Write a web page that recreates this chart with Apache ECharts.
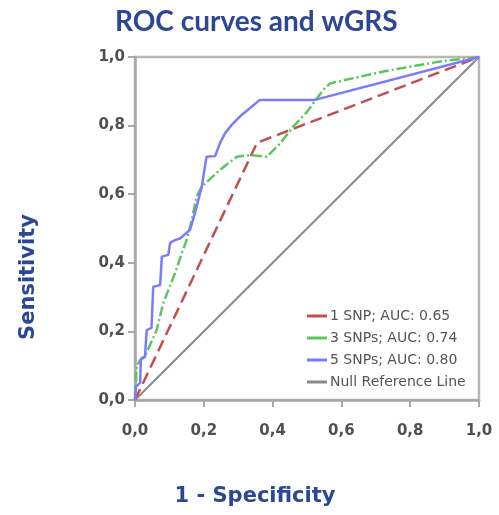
<!DOCTYPE html>
<html><head><meta charset="utf-8">
<script src="https://cdn.jsdelivr.net/npm/echarts@6/dist/echarts.min.js"></script>
<style>html,body{margin:0;padding:0;background:#fff}#c{width:499px;height:515px}</style>
</head><body><div id="c"></div>
<script>
// Data
const fpr1 = [0, 0.355, 1];
const tpr1 = [0, 0.750, 1];
const fpr3 = [0,0.005,0.019,0.03,0.063,0.082,0.116,0.136,0.150,0.165,0.179,0.194,0.247,0.296,0.334,0.383,0.422,0.46,0.50,0.547,0.567,0.722,0.887,1];
const tpr3 = [0,0.10,0.122,0.13,0.204,0.282,0.369,0.428,0.466,0.525,0.593,0.622,0.671,0.709,0.714,0.709,0.748,0.797,0.84,0.904,0.923,0.958,0.987,1];
const fpr5 = [0,0.003,0.015,0.017,0.029,0.034,0.048,0.053,0.073,0.078,0.097,0.102,0.116,0.131,0.160,0.174,0.194,0.208,0.233,0.247,0.262,0.281,0.310,0.363,0.523,1];
const tpr5 = [0,0.039,0.05,0.117,0.126,0.204,0.21,0.33,0.335,0.418,0.423,0.458,0.466,0.471,0.496,0.544,0.622,0.709,0.711,0.749,0.778,0.802,0.831,0.875,0.875,1];
const fprNull = [0, 1];
const tprNull = [0, 1];
const seriesNames = ['1 SNP; AUC: 0.65', '3 SNPs; AUC: 0.74', '5 SNPs; AUC: 0.80', 'Null Reference Line'];
const titleText = 'ROC curves and wGRS';
const xName = '1 - Specificity';
const yName = 'Sensitivity';

const zip = (a, b) => a.map((v, i) => [v, b[i]]);
const fmt = v => v.toFixed(1).replace('.', ',');
const navy = '#2c4793';

const chart = echarts.init(document.getElementById('c'), null, {renderer: 'canvas'});
const axisCommon = {
  type: 'value', min: 0, max: 1, interval: 0.2,
  axisLine: {show: true, lineStyle: {color: '#a8a8a8', width: 2.5}},
  axisTick: {show: true, length: 7, lineStyle: {color: '#a8a8a8', width: 2}},
  splitLine: {show: false},
  axisLabel: {formatter: fmt, color: '#505050', fontFamily: 'DejaVu Sans', fontWeight: 'bold', fontSize: 15}
};
chart.setOption({
  animation: false,
  backgroundColor: '#fff',
  title: {text: titleText, left: 110, top: 3,
    textStyle: {fontFamily: 'Lato', fontWeight: 'bold', fontSize: 28, color: navy}},
  grid: {left: 135, right: 20, top: 57, bottom: 115, show: true, borderColor: '#b8b8b8', borderWidth: 2.5},
  xAxis: Object.assign({}, axisCommon, {
    axisLabel: Object.assign({}, axisCommon.axisLabel, {margin: 24})
  }),
  yAxis: Object.assign({}, axisCommon, {
    axisLabel: Object.assign({}, axisCommon.axisLabel, {margin: 10, padding: [6, 0, 0, 0]})
  }),
  legend: {
    orient: 'vertical', left: 302, top: 304, itemGap: 8, itemWidth: 20, itemHeight: 3, icon: 'rect',
    textStyle: {fontFamily: 'DejaVu Sans', fontSize: 14, color: '#555', padding: [0, 0, 0, -2]},
    data: seriesNames
  },
  graphic: [
    {type: 'text', x: 255, y: 497, style: {text: xName, fontFamily: 'DejaVu Sans', fontWeight: 'bold', fontSize: 21, fill: navy, align: 'center', verticalAlign: 'middle'}},
    {type: 'text', x: 29, y: 277, rotation: Math.PI / 2, style: {text: yName, fontFamily: 'DejaVu Sans', fontWeight: 'bold', fontSize: 21, fill: navy, align: 'center', verticalAlign: 'middle'}}
  ],
  series: [
    {name: seriesNames[3], type: 'line', data: zip(fprNull, tprNull), symbol: 'none', z: 1,
      lineStyle: {color: '#8a8a8a', width: 2}, itemStyle: {color: '#8a8a8a'}},
    {name: seriesNames[0], type: 'line', data: zip(fpr1, tpr1), symbol: 'none', z: 2,
      lineStyle: {color: '#c0504f', width: 2.5, type: [12, 6]}, itemStyle: {color: '#c0504f'}},
    {name: seriesNames[1], type: 'line', data: zip(fpr3, tpr3), symbol: 'none', z: 3,
      lineStyle: {color: '#5ec55e', width: 2.5, type: [10, 3, 2, 3]}, itemStyle: {color: '#5ec55e'}},
    {name: seriesNames[2], type: 'line', data: zip(fpr5, tpr5), symbol: 'none', z: 4,
      lineStyle: {color: '#7b7bff', width: 2.5}, itemStyle: {color: '#7b7bff'}}
  ]
});
</script>
</body></html>
